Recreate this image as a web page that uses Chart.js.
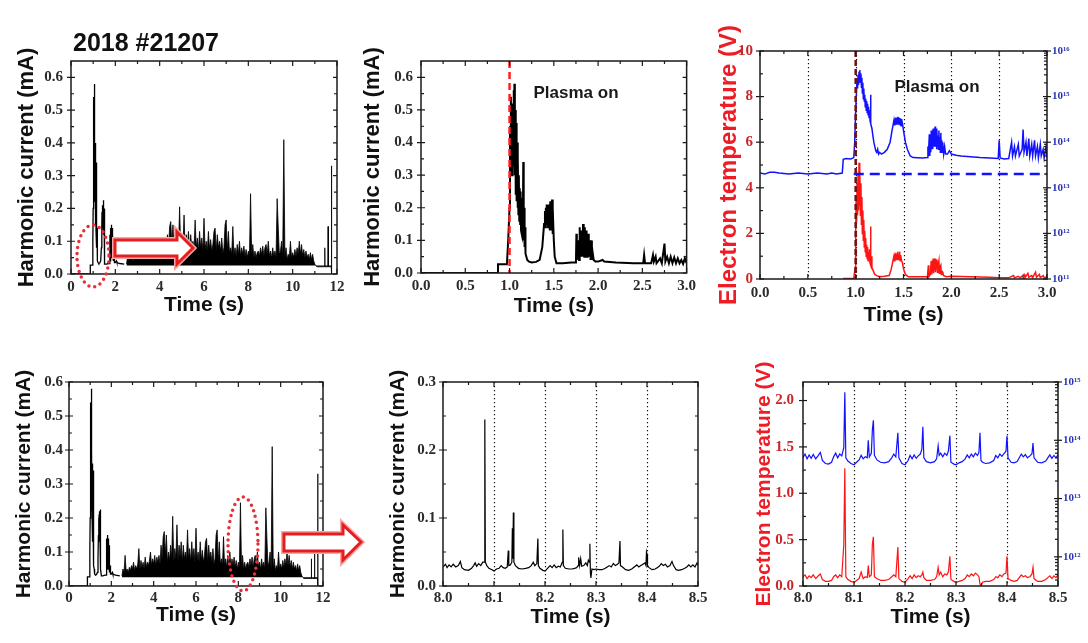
<!DOCTYPE html>
<html><head><meta charset="utf-8">
<script src="https://cdn.jsdelivr.net/npm/chart.js@4.4.1/dist/chart.umd.min.js"></script>
<style>
html,body{margin:0;padding:0;background:#fff;width:1088px;height:643px;overflow:hidden;position:relative;font-family:"Liberation Sans",Arial,sans-serif}
canvas{position:absolute}
.lbl{position:absolute;font-weight:bold;white-space:nowrap;transform:translate(-50%,-50%);color:#1a1a1a}
svg{position:absolute;left:0;top:0}
</style></head><body>
<canvas id="p1"></canvas><canvas id="p2"></canvas><canvas id="p3"></canvas>
<canvas id="p4"></canvas><canvas id="p5"></canvas><canvas id="p6"></canvas>
<div class="lbl" id="shot" style="left:146px;top:42px;font-size:25px;color:#111"></div>
<div class="lbl" style="left:576px;top:93px;font-size:17px">Plasma on</div>
<div class="lbl" style="left:937px;top:87px;font-size:17px">Plasma on</div>
<svg width="1088" height="643">
  <g fill="none" stroke="#e5303a" stroke-width="3.5" stroke-linecap="round" stroke-dasharray="0 6">
    <ellipse cx="93" cy="256" rx="16" ry="31"/>
    <ellipse cx="243" cy="544" rx="15" ry="47"/>
  </g>
  <g stroke-linejoin="miter">
    <polygon points="115,240 177,240 177,232 193,248 177,264 177,256 115,256" fill="#fff" stroke="#f6a6a6" stroke-width="6"/>
    <polygon points="115,240 177,240 177,232 193,248 177,264 177,256 115,256" fill="#fff" stroke="#e41e1e" stroke-width="3"/>
    <polygon points="284,534 343,534 343,525 361,542 343,560 343,551 284,551" fill="#fff" stroke="#f6a6a6" stroke-width="6"/>
    <polygon points="284,534 343,534 343,525 361,542 343,560 343,551 284,551" fill="#fff" stroke="#e41e1e" stroke-width="3"/>
  </g>
</svg>
<script>
// ================= DATA =================
const shotLabel = '2018 #21207';
const plasmaOnTime = 1.0;

// Harmonic current, 0–3 s (time s, current mA)
const hcTime = [
 0,0.87,0.87,0.97,0.985,1.0,1.005,1.01,1.015,1.02,
 1.025,1.03,1.035,1.04,1.045,1.05,1.055,1.06,1.065,1.07,
 1.075,1.08,1.085,1.09,1.095,1.1,1.105,1.11,1.115,1.12,
 1.125,1.13,1.135,1.14,1.145,1.15,1.155,1.16,1.165,1.17,
 1.175,1.18,1.19,1.2,1.22,1.25,1.3,1.34,1.37,1.39,
 1.4,1.405,1.41,1.415,1.42,1.425,1.43,1.435,1.44,1.445,
 1.45,1.455,1.46,1.465,1.47,1.475,1.48,1.485,1.49,1.5,
 1.51,1.53,1.6,1.7,1.75,1.755,1.76,1.77,1.78,1.785,
 1.79,1.795,1.8,1.805,1.81,1.815,1.82,1.825,1.83,1.835,
 1.84,1.845,1.85,1.855,1.86,1.865,1.87,1.875,1.88,1.885,
 1.89,1.895,1.9,1.905,1.91,1.915,1.92,1.93,1.94,1.95,
 1.97,2.0,2.05,2.07,2.2,2.4,2.51,2.52,2.53,2.6,
 2.62,2.63,2.65,2.66,2.7,2.72,2.75,2.76,2.78,2.8,
 2.82,2.84,2.86,2.88,2.9,2.92,2.94,2.96,2.98,3.0];
const hcCurrent = [
 0,0,0.027,0.027,0.1,0.2,0.45,0.3,0.54,0.32,
 0.52,0.3,0.5,0.33,0.56,0.35,0.58,0.3,0.5,0.24,
 0.46,0.22,0.4,0.2,0.36,0.18,0.3,0.16,0.26,0.15,
 0.25,0.13,0.23,0.12,0.22,0.12,0.34,0.1,0.2,0.08,
 0.14,0.06,0.05,0.04,0.035,0.032,0.034,0.04,0.08,0.15,
 0.19,0.14,0.2,0.15,0.21,0.15,0.2,0.14,0.21,0.15,
 0.2,0.13,0.22,0.14,0.21,0.13,0.225,0.12,0.2,0.1,
 0.05,0.03,0.03,0.032,0.032,0.12,0.04,0.06,0.1,0.04,
 0.14,0.05,0.09,0.05,0.13,0.05,0.08,0.05,0.15,0.05,
 0.1,0.05,0.14,0.06,0.11,0.05,0.13,0.05,0.1,0.05,
 0.12,0.05,0.1,0.05,0.09,0.04,0.1,0.04,0.06,0.04,
 0.035,0.035,0.04,0.035,0.032,0.03,0.03,0.055,0.03,0.03,
 0.055,0.035,0.05,0.03,0.045,0.03,0.09,0.035,0.05,0.03,
 0.05,0.03,0.048,0.03,0.045,0.03,0.04,0.028,0.045,0.03];

// Harmonic current, 2.5–12 s (time s, current mA)
const hcLongTime = [
 2.5,2.55,2.6,2.65,2.7,2.75,2.8,2.85,2.9,2.95,
 3.0,3.05,3.1,3.15,3.2,3.25,3.3,3.35,3.4,3.45,
 3.5,3.55,3.6,3.65,3.7,3.75,3.8,3.85,3.9,3.95,
 4.0,4.05,4.1,4.15,4.2,4.25,4.3,4.35,4.4,4.45,
 4.5,4.55,4.6,4.65,4.7,4.75,4.8,4.85,4.9,4.95,
 5.0,5.05,5.1,5.15,5.2,5.25,5.3,5.35,5.4,5.45,
 5.5,5.55,5.6,5.65,5.7,5.75,5.8,5.85,5.9,5.95,
 6.0,6.05,6.1,6.15,6.2,6.25,6.3,6.35,6.4,6.45,
 6.5,6.55,6.6,6.65,6.7,6.75,6.8,6.85,6.9,6.95,
 7.0,7.05,7.1,7.15,7.2,7.25,7.3,7.35,7.4,7.45,
 7.5,7.55,7.6,7.65,7.7,7.75,7.8,7.85,7.9,7.95,
 8.0,8.05,8.1,8.15,8.2,8.25,8.3,8.35,8.4,8.45,
 8.5,8.55,8.6,8.65,8.7,8.75,8.8,8.85,8.9,8.95,
 9.0,9.05,9.1,9.15,9.2,9.25,9.3,9.35,9.4,9.45,
 9.5,9.55,9.6,9.65,9.7,9.75,9.8,9.85,9.9,9.95,
 10.0,10.05,10.1,10.15,10.2,10.25,10.3,10.35,10.4,10.45,
 10.5,10.55,10.6,10.65,10.7,10.75,10.8,10.85,10.9,10.95,
 11.0,11.05,11.1,11.2,11.3,11.4,11.44,11.45,11.46,11.5,
 11.59,11.6,11.61,11.7,11.74,11.75,11.76];
const hcLongCurrent = [
 0.03,0.05,0.04,0.09,0.045,0.05,0.04,0.055,0.045,0.06,
 0.05,0.07,0.045,0.06,0.05,0.065,0.11,0.05,0.075,0.055,
 0.07,0.05,0.085,0.055,0.07,0.06,0.075,0.1,0.06,0.08,
 0.065,0.09,0.06,0.085,0.07,0.09,0.065,0.12,0.08,0.145,
 0.16,0.09,0.15,0.07,0.1,0.075,0.12,0.08,0.205,0.07,
 0.11,0.08,0.18,0.075,0.12,0.085,0.13,0.07,0.12,0.08,
 0.1,0.075,0.165,0.08,0.11,0.07,0.13,0.08,0.11,0.07,
 0.17,0.075,0.1,0.07,0.13,0.075,0.105,0.07,0.09,0.13,
 0.14,0.07,0.12,0.08,0.1,0.07,0.11,0.065,0.08,0.15,
 0.165,0.07,0.13,0.065,0.08,0.06,0.145,0.06,0.08,0.055,
 0.09,0.06,0.1,0.055,0.08,0.06,0.085,0.055,0.075,0.05,
 0.07,0.055,0.245,0.06,0.09,0.05,0.07,0.05,0.065,0.07,
 0.055,0.08,0.06,0.085,0.055,0.08,0.09,0.06,0.1,0.055,
 0.07,0.05,0.08,0.055,0.07,0.05,0.23,0.14,0.06,0.07,
 0.1,0.05,0.41,0.05,0.08,0.045,0.06,0.05,0.1,0.05,
 0.065,0.05,0.075,0.055,0.08,0.06,0.1,0.06,0.09,0.055,
 0.075,0.05,0.07,0.05,0.06,0.045,0.065,0.045,0.06,0.04,
 0.03,0.025,0.022,0.022,0.022,0.022,0.022,0.08,0.022,0.022,
 0.022,0.145,0.022,0.022,0.022,0.33,0.0];

// Electron temperature (V), 0–3 s
const teTime = [
 0.87,0.98,0.995,1.0,1.005,1.01,1.015,1.02,1.025,1.03,
 1.035,1.04,1.045,1.05,1.055,1.06,1.065,1.07,1.075,1.08,
 1.085,1.09,1.095,1.1,1.105,1.11,1.115,1.12,1.125,1.13,
 1.135,1.14,1.145,1.15,1.155,1.16,1.165,1.17,1.18,1.19,
 1.2,1.22,1.25,1.3,1.35,1.37,1.39,1.4,1.405,1.41,
 1.415,1.42,1.425,1.43,1.435,1.44,1.445,1.45,1.455,1.46,
 1.465,1.47,1.48,1.49,1.5,1.52,1.55,1.6,1.7,1.75,
 1.76,1.765,1.78,1.79,1.795,1.8,1.81,1.815,1.82,1.83,
 1.835,1.84,1.85,1.855,1.86,1.87,1.875,1.88,1.89,1.895,
 1.9,1.91,1.92,1.95,2.0,2.2,2.4,2.5,2.6,2.65,
 2.66,2.7,2.72,2.76,2.77,2.8,2.81,2.84,2.85,2.88,
 2.89,2.92,2.93,2.96,2.97,3.0];
const teValue = [
 0.02,0.03,0.5,2.0,3.5,2.5,4.2,2.8,4.6,3.0,
 5.1,3.2,4.8,2.8,4.2,2.4,3.6,2.0,3.0,1.7,
 2.6,1.4,2.1,1.2,1.8,1.0,1.5,0.9,1.4,0.8,
 1.2,0.8,1.3,0.7,2.3,0.6,1.0,0.5,0.4,0.3,
 0.2,0.15,0.1,0.12,0.15,0.4,0.8,1.0,0.8,1.1,
 0.85,1.15,0.9,1.1,0.85,1.2,0.9,1.1,0.85,1.2,
 0.8,1.05,0.8,0.7,0.45,0.2,0.1,0.1,0.1,0.1,
 0.6,0.1,0.2,0.8,0.2,0.4,0.9,0.25,0.5,0.9,
 0.3,0.6,0.85,0.3,0.55,0.8,0.25,0.5,0.6,0.2,
 0.35,0.3,0.15,0.1,0.12,0.1,0.08,0.06,0.05,0.15,
 0.05,0.12,0.05,0.2,0.06,0.25,0.08,0.15,0.06,0.3,
 0.08,0.2,0.06,0.15,0.05,0.1];

// Electron density, 0–3 s
const neTime = [
 0.0,0.05,0.1,0.15,0.2,0.3,0.4,0.5,0.6,0.7,
 0.75,0.8,0.86,0.87,0.9,0.95,0.98,0.99,1.0,1.01,
 1.015,1.02,1.025,1.03,1.035,1.04,1.045,1.05,1.055,1.06,
 1.065,1.07,1.075,1.08,1.085,1.09,1.095,1.1,1.105,1.11,
 1.115,1.12,1.125,1.13,1.135,1.14,1.145,1.15,1.155,1.16,
 1.17,1.18,1.19,1.2,1.21,1.22,1.23,1.24,1.25,1.27,
 1.3,1.33,1.36,1.38,1.4,1.405,1.41,1.415,1.42,1.425,
 1.43,1.435,1.44,1.445,1.45,1.455,1.46,1.465,1.47,1.475,
 1.48,1.49,1.5,1.52,1.54,1.57,1.6,1.7,1.75,1.755,
 1.76,1.77,1.775,1.78,1.785,1.79,1.795,1.8,1.805,1.81,
 1.815,1.82,1.825,1.83,1.835,1.84,1.845,1.85,1.855,1.86,
 1.865,1.87,1.875,1.88,1.885,1.89,1.895,1.9,1.905,1.91,
 1.92,1.93,1.94,1.96,1.98,2.0,2.05,2.1,2.2,2.3,
 2.4,2.49,2.5,2.51,2.55,2.6,2.63,2.64,2.66,2.67,
 2.7,2.71,2.74,2.75,2.76,2.78,2.79,2.81,2.82,2.84,
 2.85,2.87,2.88,2.9,2.91,2.93,2.94,2.96,2.97,2.99,
 3.0];
const neValue = [
 2.1e13,2.0e13,2.2e13,2.2e13,2.1e13,2.0e13,2.1e13,2.0e13,2.1e13,2.0e13,
 2.1e13,2.0e13,2.1e13,4.2e13,4.4e13,4.3e13,4.6e13,1e14,5e14,1.5e15,
 2.5e15,1.5e15,3.0e15,1.8e15,3.5e15,2.0e15,3.8e15,2.2e15,3.2e15,1.6e15,
 2.6e15,1.2e15,2.0e15,9e14,1.5e15,8e14,1.1e15,6e14,9e14,5e14,
 8e14,4.5e14,7e14,4e14,6e14,3.5e14,5e14,3e14,1.1e15,2.5e14,
 2e14,1.4e14,1.0e14,8e13,6.5e13,6e13,7e13,5.5e13,6e13,5.5e13,
 6e13,7e13,1e14,1.8e14,3e14,2.4e14,3.3e14,2.5e14,3.5e14,2.6e14,
 3.4e14,2.5e14,3.6e14,2.6e14,3.5e14,2.5e14,3.4e14,2.4e14,3.3e14,2.3e14,
 3.2e14,2.5e14,1.8e14,1e14,7e13,5e13,4.6e13,4.5e13,4.6e13,8e13,
 5e13,1.5e14,5e13,1.1e14,6e13,1.8e14,7e13,1.2e14,7e13,2.0e14,
 8e13,1.3e14,8e13,2.2e14,8e13,1.5e14,7e13,2.0e14,8e13,1.4e14,
 7e13,1.8e14,7e13,1.3e14,6e13,1.6e14,6e13,1.1e14,6e13,1.0e14,
 5.5e13,8e13,5.5e13,5.5e13,6.5e13,5.5e13,5.2e13,5e13,4.8e13,4.6e13,
 4.5e13,4.4e13,1.1e14,4.5e13,4.3e13,4.4e13,1.0e14,5e13,8e13,5e13,
 9e13,5e13,7e13,1.9e14,6e13,1e14,5e13,1.2e14,5e13,9e13,
 5e13,1.1e14,5e13,8e13,4.5e13,9e13,5e13,7e13,4.5e13,8e13,
 4.5e13];
const neRefLevel = 2e13;
const neRefSpan = [0.98, 3.0];

// Burst window 8.0–8.5 s: harmonic current (mA)
const burstTime = [
 8.000,8.005,8.008,8.012,8.016,8.020,8.025,8.030,8.034,8.037,
 8.042,8.050,8.056,8.060,8.063,8.066,8.070,8.074,8.078,8.081,
 8.082,8.083,8.086,8.090,8.096,8.100,8.105,8.110,8.114,8.118,
 8.122,8.126,8.128,8.129,8.132,8.135,8.136,8.137,8.138,8.139,
 8.142,8.148,8.155,8.162,8.168,8.173,8.177,8.180,8.184,8.186,
 8.187,8.190,8.196,8.200,8.205,8.210,8.214,8.218,8.222,8.226,
 8.230,8.234,8.235,8.236,8.240,8.247,8.253,8.258,8.262,8.265,
 8.266,8.268,8.270,8.272,8.276,8.280,8.283,8.285,8.287,8.288,
 8.289,8.290,8.292,8.296,8.300,8.306,8.312,8.318,8.322,8.326,
 8.330,8.334,8.338,8.342,8.345,8.347,8.348,8.352,8.358,8.364,
 8.370,8.375,8.380,8.384,8.388,8.392,8.396,8.398,8.399,8.400,
 8.401,8.404,8.410,8.416,8.420,8.424,8.428,8.432,8.436,8.440,
 8.445,8.449,8.452,8.457,8.462,8.468,8.474,8.478,8.482,8.486,
 8.490,8.494,8.498,8.500];
const burstCurrent = [
 0.028,0.032,0.027,0.031,0.028,0.032,0.028,0.030,0.036,0.027,
 0.024,0.023,0.026,0.030,0.034,0.029,0.033,0.030,0.035,0.035,
 0.245,0.035,0.030,0.026,0.024,0.022,0.025,0.026,0.030,0.027,
 0.026,0.028,0.052,0.030,0.031,0.035,0.085,0.040,0.108,0.035,
 0.030,0.026,0.025,0.026,0.027,0.030,0.035,0.030,0.033,0.070,
 0.030,0.026,0.023,0.022,0.026,0.030,0.027,0.031,0.027,0.029,
 0.028,0.035,0.083,0.030,0.026,0.025,0.025,0.026,0.027,0.030,
 0.042,0.030,0.040,0.029,0.030,0.034,0.030,0.038,0.035,0.062,
 0.020,0.012,0.025,0.024,0.025,0.024,0.024,0.026,0.028,0.030,
 0.028,0.033,0.030,0.032,0.034,0.066,0.030,0.028,0.024,0.023,
 0.025,0.028,0.031,0.028,0.030,0.032,0.034,0.030,0.050,0.047,
 0.030,0.027,0.024,0.025,0.027,0.029,0.033,0.030,0.032,0.028,
 0.030,0.036,0.030,0.024,0.023,0.024,0.026,0.028,0.031,0.028,
 0.031,0.028,0.034,0.030];

// Burst window 8.0–8.5 s: electron temperature (V) and density
const burstPlasmaTime = [
 8.000,8.004,8.008,8.012,8.016,8.020,8.025,8.030,
 8.034,8.038,8.044,8.050,8.056,8.060,8.064,8.068,
 8.072,8.076,8.080,8.082,8.084,8.088,8.094,8.100,
 8.105,8.110,8.114,8.118,8.122,8.126,8.128,8.130,
 8.134,8.136,8.138,8.140,8.145,8.152,8.160,8.168,
 8.174,8.178,8.182,8.186,8.188,8.194,8.200,8.206,
 8.210,8.214,8.218,8.222,8.226,8.230,8.233,8.235,
 8.237,8.242,8.250,8.258,8.262,8.265,8.267,8.270,
 8.274,8.278,8.282,8.285,8.288,8.290,8.296,8.300,
 8.306,8.312,8.318,8.322,8.326,8.330,8.334,8.338,
 8.342,8.345,8.347,8.349,8.352,8.358,8.366,8.374,
 8.378,8.382,8.386,8.390,8.394,8.398,8.400,8.402,
 8.408,8.414,8.420,8.424,8.428,8.432,8.436,8.440,
 8.445,8.449,8.451,8.453,8.460,8.468,8.476,8.480,
 8.484,8.488,8.492,8.496,8.500];
const burstDensity = [
 5.0e13,5.8e13,4.8e13,5.6e13,4.9e13,5.7e13,4.8e13,5.5e13,
 6.2e13,4.5e13,4.0e13,3.9e13,4.2e13,5.2e13,6.0e13,5.0e13,
 5.8e13,5.4e13,7.5e13,6.7e14,5.0e13,4.4e13,4.0e13,3.8e13,
 4.2e13,4.6e13,5.5e13,4.8e13,5.2e13,5.0e13,1.0e14,5.2e13,
 6.0e13,1.5e14,2.2e14,5.5e13,4.6e13,4.2e13,4.1e13,4.3e13,
 5.0e13,5.8e13,5.2e13,1.35e14,5.0e13,4.0e13,3.8e13,4.5e13,
 5.5e13,4.8e13,5.6e13,4.9e13,5.4e13,5.8e13,7.0e13,1.7e14,
 5.0e13,4.3e13,4.1e13,4.3e13,4.8e13,8.0e13,5.5e13,6.0e13,
 5.2e13,6.0e13,5.5e13,6.5e13,1.2e14,4.2e13,3.9e13,3.8e13,
 4.1e13,4.3e13,4.8e13,5.6e13,5.0e13,5.8e13,5.2e13,6.0e13,
 5.5e13,6.2e13,1.35e14,4.5e13,4.2e13,4.0e13,4.1e13,4.5e13,
 5.5e13,5.0e13,5.8e13,5.3e13,5.9e13,6.5e13,1.2e14,5.0e13,
 4.2e13,4.1e13,4.3e13,5.0e13,5.8e13,5.2e13,5.7e13,5.0e13,
 5.4e13,5.9e13,9.0e13,5.0e13,4.2e13,4.1e13,4.4e13,5.0e13,
 5.6e13,4.9e13,5.5e13,5.0e13,5.6e13];
const burstTe = [
 0.10,0.12,0.08,0.11,0.09,0.12,0.08,0.11,
 0.13,0.07,0.05,0.05,0.06,0.10,0.12,0.09,
 0.12,0.10,0.45,1.27,0.10,0.07,0.05,0.04,
 0.06,0.08,0.15,0.08,0.10,0.09,0.22,0.10,
 0.12,0.45,0.53,0.10,0.08,0.06,0.06,0.07,
 0.10,0.12,0.10,0.42,0.08,0.05,0.04,0.08,
 0.11,0.08,0.12,0.09,0.11,0.10,0.12,0.15,
 0.09,0.06,0.06,0.07,0.10,0.20,0.12,0.15,
 0.10,0.13,0.12,0.15,0.32,0.07,0.05,0.04,
 0.05,0.06,0.08,0.12,0.10,0.13,0.11,0.14,
 0.12,0.10,0.02,0.00,0.04,0.05,0.05,0.07,
 0.10,0.09,0.12,0.10,0.13,0.14,0.32,0.08,
 0.06,0.05,0.06,0.09,0.12,0.10,0.11,0.09,
 0.10,0.13,0.20,0.08,0.05,0.05,0.07,0.09,
 0.11,0.08,0.11,0.09,0.12];

// Axis tick values for the density (log) axes
const densityTicksTop = [1e11,1e12,1e13,1e14,1e15,1e16];
const densityTicksBottom = [1e12,1e13,1e14,1e15];

// ================= RENDERING =================
document.getElementById('shot').textContent = shotLabel;
const SANS = '"Liberation Sans", Arial, sans-serif';
const SERIF = '"Liberation Serif", "Times New Roman", serif';
const BLACK = '#000000', RED = '#ff1414', BLUE = '#1212ff';
const SUP = {'-':'\u207B','0':'\u2070','1':'\u00B9','2':'\u00B2','3':'\u00B3','4':'\u2074','5':'\u2075','6':'\u2076','7':'\u2077','8':'\u2078','9':'\u2079'};
const pow10Label = v => '10' + String(Math.round(Math.log10(v))).split('').map(c => SUP[c]).join('');
const pts = (t, v) => t.map((x, i) => ({x, y: v[i]}));

const framePlugin = {
  id: 'frame',
  beforeDatasetsDraw(chart) {
    const o = chart.options.plugins.frame || {};
    const {ctx, chartArea: a} = chart;
    if (o.vgrid) {
      const xs = chart.scales.x;
      ctx.save();
      ctx.strokeStyle = '#111'; ctx.lineWidth = 1.2; ctx.setLineDash([1.2, 2.8]);
      xs.ticks.forEach(t => {
        if (t.value <= xs.min + 1e-9 || t.value >= xs.max - 1e-9) return;
        const px = Math.round(xs.getPixelForValue(t.value)) + 0.5;
        ctx.beginPath(); ctx.moveTo(px, a.top); ctx.lineTo(px, a.bottom); ctx.stroke();
      });
      ctx.restore();
    }
  },
  afterDatasetsDraw(chart) {
    const o = chart.options.plugins.frame || {};
    const {ctx, chartArea: a, scales} = chart;
    ctx.save();
    if (o.vline) {
      const px = scales.x.getPixelForValue(o.vline.value);
      ctx.strokeStyle = o.vline.color; ctx.lineWidth = o.vline.width; ctx.setLineDash(o.vline.dash);
      ctx.beginPath(); ctx.moveTo(px, a.top); ctx.lineTo(px, a.bottom); ctx.stroke();
      ctx.setLineDash([]);
    }
    ctx.strokeStyle = '#1a1a1a'; ctx.lineWidth = 1.5;
    ctx.strokeRect(a.left, a.top, a.right - a.left, a.bottom - a.top);
    ctx.lineWidth = 1.2;
    const xs = scales.x, xv = xs.ticks.map(t => t.value);
    const drawX = (v, len) => { const px = xs.getPixelForValue(v); ctx.beginPath(); ctx.moveTo(px, a.bottom); ctx.lineTo(px, a.bottom - len); ctx.moveTo(px, a.top); ctx.lineTo(px, a.top + len); ctx.stroke(); };
    xv.forEach((v, i) => { drawX(v, 5); if (i < xv.length - 1) drawX((v + xv[i + 1]) / 2, 3); });
    const ys = scales.y, yv = ys.ticks.map(t => t.value);
    const both = !scales.y1;
    const drawY = (v, inLen, outLen) => { const py = ys.getPixelForValue(v); ctx.beginPath(); ctx.moveTo(a.left - outLen, py); ctx.lineTo(a.left + inLen, py); if (both) { ctx.moveTo(a.right, py); ctx.lineTo(a.right - inLen, py); } ctx.stroke(); };
    yv.forEach((v, i) => { drawY(v, 4, 4); if (i < yv.length - 1) drawY((v + yv[i + 1]) / 2, 3, 0); });
    if (scales.y1) {
      const s = scales.y1;
      const lo = Math.floor(Math.log10(s.min)), hi = Math.ceil(Math.log10(s.max));
      for (let e = lo; e <= hi; e++) for (let m = 1; m < 10; m++) {
        const v = m * Math.pow(10, e);
        if (v < s.min * 0.999 || v > s.max * 1.001) continue;
        const py = s.getPixelForValue(v);
        ctx.beginPath(); ctx.moveTo(a.right + (m === 1 ? 4 : 0), py); ctx.lineTo(a.right - (m === 1 ? 4 : 3), py); ctx.stroke();
      }
    }
    ctx.restore();
  }
};

function line(data, color, width, extra) {
  return Object.assign({data, borderColor: color, backgroundColor: color, borderWidth: width, pointRadius: 0, tension: 0, fill: false}, extra || {});
}

function makePanel(id, box, area, p) {
  const cv = document.getElementById(id);
  cv.style.left = box.x + 'px'; cv.style.top = box.y + 'px';
  cv.width = box.w; cv.height = box.h;
  const yW = area.l - box.x, xH = box.y + box.h - area.b, rW = box.x + box.w - area.r;
  const tickFont = {family: SERIF, weight: 'bold', size: 15};
  const scales = {
    x: {type: 'linear', min: p.x[0], max: p.x[1], afterFit: s => { s.height = xH; },
      grid: {display: false, drawTicks: false}, border: {display: false},
      ticks: {stepSize: p.x[2], includeBounds: false, autoSkip: false, maxRotation: 0, padding: p.xPad, color: '#2b2b2b', font: tickFont,
        callback: v => v.toFixed(p.x[3])},
      title: {display: true, text: 'Time (s)', color: '#111', padding: 0, font: {family: SANS, weight: 'bold', size: 21, lineHeight: 1}}},
    y: {type: 'linear', position: 'left', min: p.y[0], max: p.y[1], afterFit: s => { s.width = yW; },
      grid: {display: false, drawTicks: false}, border: {display: false},
      ticks: {stepSize: p.y[2], includeBounds: false, autoSkip: false, padding: p.yPad, color: p.yColor || '#2b2b2b', font: tickFont,
        callback: v => v.toFixed(p.y[3])},
      title: {display: true, text: p.yTitle, color: p.yTitleColor || '#111', padding: 0, font: {family: SANS, weight: 'bold', size: p.yTitleSize, lineHeight: 1}}}
  };
  if (p.log) {
    scales.y1 = {type: 'logarithmic', position: 'right', min: p.log.min, max: p.log.max, afterFit: s => { s.width = rW; },
      afterBuildTicks: s => { s.ticks = p.log.ticks.map(v => ({value: v})); },
      grid: {display: false, drawTicks: false}, border: {display: false},
      ticks: {padding: 5, color: '#2a35b5', font: {family: SERIF, weight: 'bold', size: 11}, callback: v => pow10Label(v)}};
  }
  return new Chart(cv, {
    type: 'line',
    data: {datasets: p.datasets},
    options: {
      responsive: false, animation: false, devicePixelRatio: 1,
      layout: {padding: {top: area.t - box.y, right: p.log ? 0 : rW, left: 0, bottom: 0}},
      plugins: {legend: {display: false}, tooltip: {enabled: false}, frame: p.frame || {}},
      scales
    },
    plugins: [framePlugin]
  });
}

const earlyPart = pts(hcTime, hcCurrent).filter(d => d.x < 2.5);
const longPart = pts(hcLongTime, hcLongCurrent);
const yHC = [0, 0.65, 0.1, 1];

makePanel('p1', {x: 16, y: 0, w: 336, h: 316}, {l: 71, t: 61, r: 337, b: 274}, {
  x: [0, 12, 2, 0], y: yHC, xPad: 4, yPad: 8, yTitle: 'Harmonic current (mA)', yTitleSize: 22,
  datasets: [line(earlyPart, BLACK, 1.3), line(longPart, BLACK, 0.8, {fill: {value: 0.026}})]
});
makePanel('p2', {x: 362, y: 0, w: 338, h: 317}, {l: 421, t: 61, r: 687, b: 273}, {
  x: [0, 3, 0.5, 1], y: yHC, xPad: 4, yPad: 8, yTitle: 'Harmonic current (mA)', yTitleSize: 22,
  datasets: [line(pts(hcTime, hcCurrent), BLACK, 2)],
  frame: {vline: {value: plasmaOnTime, color: '#ff2020', width: 2.5, dash: [7, 4]}}
});
makePanel('p3', {x: 717, y: 0, w: 371, h: 326}, {l: 760, t: 51, r: 1047, b: 279}, {
  x: [0, 3, 0.5, 1], y: [0, 10, 2, 0], xPad: 5, yPad: 7, yTitle: 'Electron temperature (V)', yTitleSize: 24,
  yColor: '#c8282c', yTitleColor: '#ee1c24',
  log: {min: 1e11, max: 1e16, ticks: densityTicksTop},
  datasets: [
    line(pts(neTime, neValue), BLUE, 1.5, {yAxisID: 'y1'}),
    line(neRefSpan.map(x => ({x, y: neRefLevel})), BLUE, 2.5, {yAxisID: 'y1', borderDash: [10, 6]}),
    line(pts(teTime, teValue), RED, 1.5, {yAxisID: 'y'})
  ],
  frame: {vgrid: true, vline: {value: plasmaOnTime, color: '#6e1212', width: 2.5, dash: [6, 3]}}
});
makePanel('p4', {x: 14, y: 330, w: 326, h: 296}, {l: 69, t: 382, r: 323, b: 586}, {
  x: [0, 12, 2, 0], y: [0, 0.6, 0.1, 1], xPad: 3, yPad: 6, yTitle: 'Harmonic current (mA)', yTitleSize: 21,
  datasets: [line(earlyPart, BLACK, 1.3), line(longPart, BLACK, 0.8, {fill: {value: 0.026}})]
});
makePanel('p5', {x: 388, y: 330, w: 324, h: 298}, {l: 443, t: 382, r: 698, b: 586}, {
  x: [8.0, 8.5, 0.1, 1], y: [0, 0.3, 0.1, 1], xPad: 3, yPad: 7, yTitle: 'Harmonic current (mA)', yTitleSize: 21,
  datasets: [line(pts(burstTime, burstCurrent), BLACK, 1.2)],
  frame: {vgrid: true}
});
makePanel('p6', {x: 754, y: 330, w: 334, h: 298}, {l: 803, t: 382, r: 1058, b: 586}, {
  x: [8.0, 8.5, 0.1, 1], y: [0, 2.2, 0.5, 1], xPad: 3, yPad: 9, yTitle: 'Electron temperature (V)', yTitleSize: 21,
  yColor: '#c8282c', yTitleColor: '#ee1c24',
  log: {min: 3.16e11, max: 1e15, ticks: densityTicksBottom},
  datasets: [
    line(pts(burstPlasmaTime, burstDensity), BLUE, 1.2, {yAxisID: 'y1'}),
    line(pts(burstPlasmaTime, burstTe), RED, 1.2, {yAxisID: 'y'})
  ],
  frame: {vgrid: true}
});
</script>
</body></html>
